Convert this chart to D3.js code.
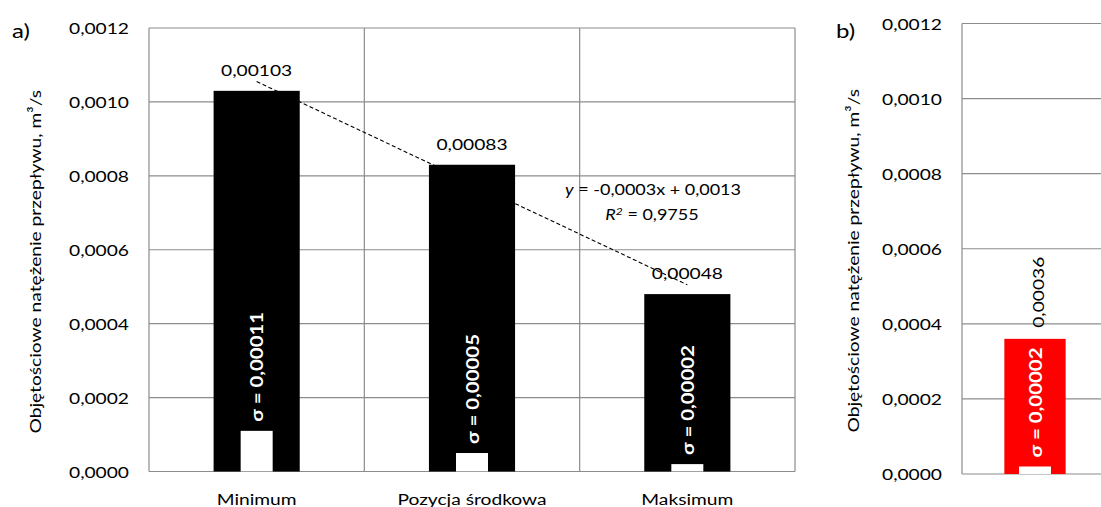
<!DOCTYPE html>
<html>
<head>
<meta charset="utf-8">
<script src="https://cdn.jsdelivr.net/npm/d3@7"></script>
<style>
  html, body { margin: 0; padding: 0; background: #fff; }
  svg { display: block; font-family: Lato, "Open Sans", sans-serif; }
</style>
</head>
<body>
<svg id="chart" width="1101" height="507"></svg>
<script>
// Flow rate by position (panel a) and a single reference measurement (panel b)
const categoriesA = ["Minimum", "Pozycja środkowa", "Maksimum"];
const meansA = [0.00103, 0.00083, 0.00048];
const sigmasA = [0.00011, 0.00005, 0.00002];
const meanLabelsA = ["0,00103", "0,00083", "0,00048"];
const sigmaLabelsA = ["σ = 0,00011", "σ = 0,00005", "σ = 0,00002"];

const categoriesB = [""];
const meansB = [0.00036];
const sigmasB = [0.00002];
const meanLabelsB = ["0,00036"];
const sigmaLabelsB = ["σ = 0,00002"];

const yTicks = [0, 0.0002, 0.0004, 0.0006, 0.0008, 0.0010, 0.0012];
const yTickLabels = ["0,0000", "0,0002", "0,0004", "0,0006", "0,0008", "0,0010", "0,0012"];
const yTitle = "Objętościowe natężenie przepływu, m³/s";

const svg = d3.select("#chart");
const gridColor = "#8c8c8c";
const fontSize = 16;
const sx = 1.2;          // horizontal widening of the glyphs along the reading direction

function fmtTick(v) {
  return yTickLabels[yTicks.findIndex(t => Math.abs(t - v) < 1e-9)];
}

// position a text element at (x, y), optionally rotated, with widened glyphs
function at(x, y, rot = 0, k = sx) {
  return `translate(${x},${y}) rotate(${rot}) scale(${k},1)`;
}

function panel(opts) {
  const { cats, means, sigmas, meanLabels, sigmaLabels, left, right, top, bottom,
          barColor, barFrac, whiteWidth, tag, tagX, titleX, rotatedValue, rightBorder } = opts;

  const x = d3.scaleBand().domain(cats).range([left, right]).padding(0);
  const y = d3.scaleLinear().domain([0, 0.0012]).range([bottom, top]);
  const g = svg.append("g");

  // horizontal gridlines
  g.selectAll("line.h").data(yTicks).join("line")
    .attr("x1", left).attr("x2", right)
    .attr("y1", d => y(d)).attr("y2", d => y(d))
    .attr("stroke", gridColor).attr("stroke-width", 1.2);

  // vertical category separators and plot frame
  const edges = cats.map(c => x(c)).concat(rightBorder ? [right] : []);
  g.selectAll("line.v").data(edges).join("line")
    .attr("x1", d => d).attr("x2", d => d)
    .attr("y1", top).attr("y2", bottom)
    .attr("stroke", gridColor).attr("stroke-width", 1.2);

  // y axis tick labels
  const pad = 20;
  const yAxis = d3.axisLeft(y).tickValues(yTicks).tickFormat(fmtTick).tickSize(0).tickPadding(pad);
  const ya = g.append("g").attr("transform", `translate(${left},0)`).call(yAxis);
  ya.select(".domain").remove();
  ya.selectAll("text")
    .attr("font-size", fontSize).attr("font-family", "Lato, sans-serif")
    .attr("fill", "#000").attr("dy", "0.35em")
    .attr("x", -pad / sx).attr("transform", `scale(${sx},1)`);

  // y title
  g.append("text")
    .attr("transform", at(titleX, (top + bottom) / 2 + 12, -90))
    .attr("text-anchor", "middle").attr("dominant-baseline", "central")
    .attr("font-size", fontSize).attr("fill", "#000")
    .text(yTitle);

  // panel tag
  g.append("text").attr("transform", at(tagX, 30))
    .attr("dominant-baseline", "central").attr("font-size", 20).attr("fill", "#000")
    .text(tag);

  const bw = x.bandwidth() * barFrac;
  const cx = c => x(c) + x.bandwidth() / 2;

  // mean bars
  g.selectAll("rect.mean").data(cats).join("rect")
    .attr("x", c => cx(c) - bw / 2).attr("width", bw)
    .attr("y", (c, i) => y(means[i])).attr("height", (c, i) => y(0) - y(means[i]))
    .attr("fill", barColor);

  // standard deviation bars
  g.selectAll("rect.sd").data(cats).join("rect")
    .attr("x", c => cx(c) - whiteWidth / 2).attr("width", whiteWidth)
    .attr("y", (c, i) => y(sigmas[i])).attr("height", (c, i) => y(0) - y(sigmas[i]))
    .attr("fill", "#fff");

  // sigma labels inside bars
  g.selectAll("text.sd").data(cats).join("text")
    .attr("transform", (c, i) => at(cx(c), y(sigmas[i]) - 9, -90, 1.2))
    .attr("text-anchor", "start").attr("dominant-baseline", "central")
    .attr("font-size", 17).attr("font-weight", "bold").attr("fill", "#fff")
    .text((c, i) => sigmaLabels[i]);

  // mean value labels
  if (rotatedValue) {
    g.selectAll("text.val").data(cats).join("text")
      .attr("transform", (c, i) => at(cx(c) + 3, y(means[i]) - 11, -90))
      .attr("text-anchor", "start").attr("dominant-baseline", "central")
      .attr("font-size", fontSize).attr("fill", "#000")
      .text((c, i) => meanLabels[i]);
  } else {
    g.selectAll("text.val").data(cats).join("text")
      .attr("transform", (c, i) => at(cx(c), y(means[i]) - 21))
      .attr("text-anchor", "middle").attr("dominant-baseline", "central")
      .attr("font-size", fontSize).attr("fill", "#000")
      .text((c, i) => meanLabels[i]);
  }

  // category labels
  g.selectAll("text.cat").data(cats).join("text")
    .attr("transform", c => at(cx(c), bottom + 33))
    .attr("text-anchor", "middle").attr("font-size", fontSize).attr("fill", "#000")
    .text(c => c);

  return { x, y, g, cx };
}

const pa = panel({
  cats: categoriesA, means: meansA, sigmas: sigmasA,
  meanLabels: meanLabelsA, sigmaLabels: sigmaLabelsA,
  left: 149, right: 795, top: 28, bottom: 471.5,
  barColor: "#000", barFrac: 0.4, whiteWidth: 32,
  tag: "a)", tagX: 12, titleX: 35, rotatedValue: false, rightBorder: true
});

const pb = panel({
  cats: categoriesB, means: meansB, sigmas: sigmasB,
  meanLabels: meanLabelsB, sigmaLabels: sigmaLabelsB,
  left: 962, right: 1108, top: 23.5, bottom: 474,
  barColor: "#ff0000", barFrac: 0.42, whiteWidth: 32,
  tag: "b)", tagX: 836, titleX: 853, rotatedValue: true, rightBorder: false
});

// linear trend through the panel a means (least squares over category index 1..n)
const n = meansA.length;
const xs = d3.range(1, n + 1);
const mx = d3.mean(xs), my = d3.mean(meansA);
const slope = d3.sum(xs.map((v, i) => (v - mx) * (meansA[i] - my))) / d3.sum(xs.map(v => (v - mx) ** 2));
const intercept = my - slope * mx;
const ends = [0, n - 1].map(i => [pa.cx(categoriesA[i]), pa.y(intercept + slope * xs[i])]);
pa.g.append("path")
  .attr("d", d3.line()(ends))
  .attr("fill", "none").attr("stroke", "#000").attr("stroke-width", 1.1)
  .attr("stroke-dasharray", "4,2.5");

// trend equation
const eq = pa.g.append("text").attr("transform", at(653, 190))
  .attr("text-anchor", "middle").attr("dominant-baseline", "central")
  .attr("font-size", 15).attr("fill", "#000");
eq.append("tspan").attr("font-style", "italic").text("y");
eq.append("tspan").text(" = -0,0003x + 0,0013");

const r2 = pa.g.append("text").attr("transform", at(652, 215))
  .attr("text-anchor", "middle").attr("dominant-baseline", "central")
  .attr("font-size", 15).attr("fill", "#000");
r2.append("tspan").attr("font-style", "italic").text("R");
r2.append("tspan").attr("font-style", "italic").attr("font-size", 10).attr("dy", "-0.5em").text("2");
r2.append("tspan").attr("dy", "0.3em").text(" = 0,9755");
</script>
</body>
</html>
